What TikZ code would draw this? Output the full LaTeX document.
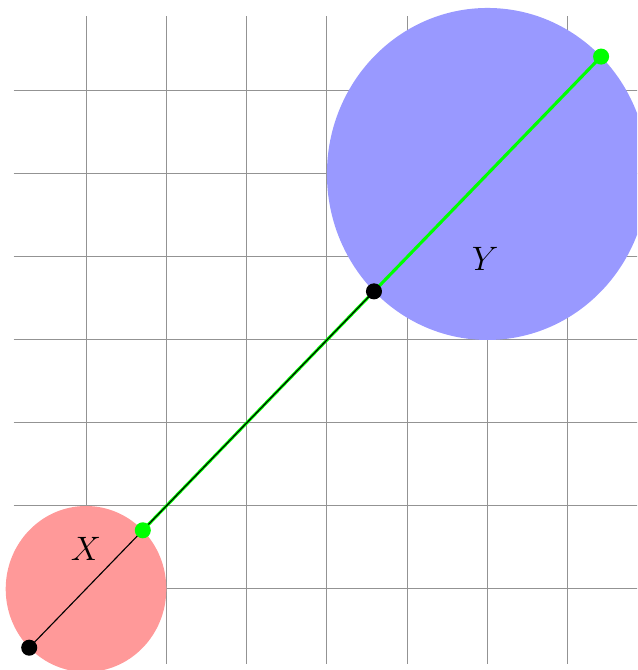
\documentclass[tikz,border=0pt]{standalone}
\begin{document}
\begin{tikzpicture}[x=1cm,y=1.0336cm,
  gridline/.style={gray!85,line width=0.35pt},
  dotblack/.style={circle,fill=black,inner sep=0pt,minimum size=0.2cm},
  dotgreen/.style={circle,fill=green,inner sep=0pt,minimum size=0.2cm},
  lbl/.style={font=\fontsize{13}{15}\selectfont}]
\useasboundingbox (-1.071,-0.976) rectangle (6.862,7.096);
\clip (-1.071,-0.976) rectangle (6.862,7.096);
\draw[gridline,step={(1,1)}] (-0.9,-0.9) grid (6.9,6.9);
\fill[red!40] (0,0) ellipse [x radius=1, y radius=1];
\fill[blue!40] (5,5) ellipse [x radius=2, y radius=2];
\coordinate (A1) at (-0.7071,-0.7071);
\coordinate (A2) at (0.7071,0.7071);
\coordinate (B1) at (3.5858,3.5858);
\coordinate (B2) at (6.4142,6.4142);
\draw[green,line width=1.1pt] (A2) -- (B2);
\draw[black,line width=0.4pt] (A1) -- (B1);
\node[dotblack] (a1) at (A1) {};
\node[dotgreen] (a2) at (A2) {};
\node[dotblack] (b1) at (B1) {};
\node[dotgreen] (b2) at (B2) {};
\node[lbl] (x) at (0,0.48) {$X$};
\node[lbl] (y) at (4.97,3.98) {$Y$};
\end{tikzpicture}
\end{document}
